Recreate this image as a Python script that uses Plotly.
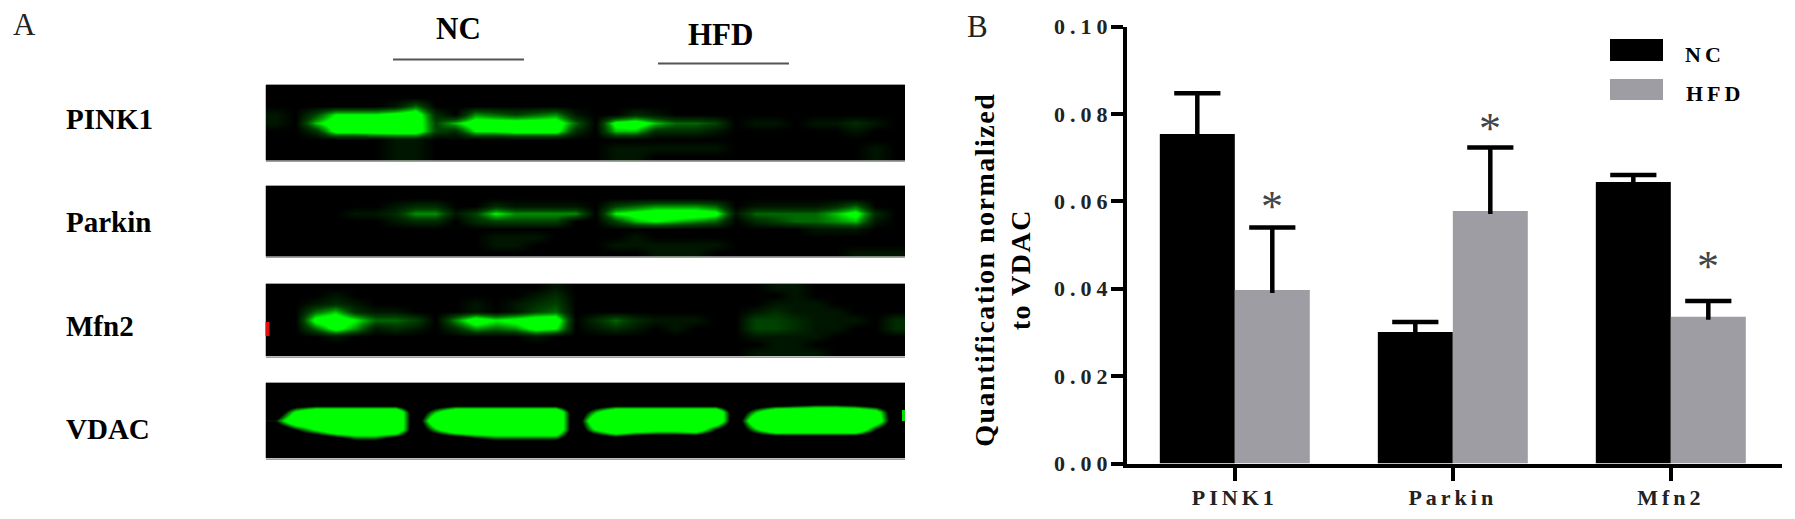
import plotly.graph_objects as go

W = 1795
H = 519
FONT = "Liberation Serif"

# Panel B values
categories = ["PINK1", "Parkin", "Mfn2"]
nc_values = [0.0754, 0.0301, 0.0644]
hfd_values = [0.0397, 0.0578, 0.0336]
nc_errors = [0.0093, 0.0023, 0.0016]
hfd_errors = [0.0143, 0.0145, 0.0036]
star_levels = [0.0595, 0.0775, 0.0458]
y_ticks = [0.0, 0.02, 0.04, 0.06, 0.08, 0.10]

# Panel A blots, green intensity 0-9 per cell, 9 rows of 32 columns
pink1_blot = [
    "0000 0000 0000 0000 0000 0000 0000 0000",
    "0000 0000 0000 0000 0000 0000 0000 0000",
    "0000 0014 0000 0000 0000 0000 0000 0000",
    "1037 7789 2054 3451 0021 0000 0000 0000",
    "1069 9999 3699 9994 0896 4430 1101 1210",
    "0028 8999 3277 8882 0662 2210 0000 0100",
    "0000 0011 0000 0000 0000 0000 0000 0000",
    "0000 0011 0000 0000 0111 1110 0000 0010",
    "0000 0011 0000 0000 0110 0000 0000 0010",
]
parkin_blot = [
    "0000 0000 0000 0000 0000 0000 0000 0000",
    "0000 0000 0000 0000 0000 0000 0000 0000",
    "0000 0012 2002 1111 0345 5540 1111 2400",
    "0000 1125 5137 5555 0789 9981 4444 6820",
    "0000 0012 2023 3330 0367 6540 2344 5610",
    "0000 0000 0000 0000 0000 0000 0001 1100",
    "0000 0000 0001 1100 0010 0000 0000 0000",
    "0000 0000 0001 1000 0111 1110 0000 0000",
    "0000 0000 0000 0000 0001 1100 0000 0111",
]
mfn2_blot = [
    "0000 0000 0000 0010 0000 0000 0110 0000",
    "0001 0000 0000 0120 0000 0000 0010 0000",
    "0012 1000 0010 1230 0000 0000 0111 0000",
    "0046 2110 0010 1340 0000 0000 1211 1000",
    "0089 7443 0597 8990 2421 1100 3321 1102",
    "0048 5121 0254 5870 1210 1000 3321 1002",
    "0001 0000 0000 0100 0000 0000 1111 0000",
    "0000 0000 0000 0000 0000 0000 0110 0000",
    "0000 0000 0000 0000 0000 0000 1111 0000",
]
vdac_blot = [
    "0000 0000 0000 0000 0000 0000 0000 0000",
    "0000 0000 0000 0000 0000 0000 0000 0000",
    "0000 0000 0000 0000 0000 0000 0012 2100",
    "0699 9990 5999 9990 5999 9990 5999 9970",
    "3999 9990 9999 9990 9999 9990 9999 9980",
    "0369 9990 5999 9990 6987 7830 5999 9930",
    "0002 4420 0134 4440 0200 0000 0000 0000",
    "0000 0000 0000 0000 0000 0000 0000 0000",
    "0000 0000 0000 0000 0000 0000 0000 0000",
]


def to_rows(blot):
    return [[int(c) for c in row.replace(" ", "")] for row in blot]


def px_x(x):
    return x / W


def px_y(y):
    return 1 - y / H


fig = go.Figure()

# Panel B bars, x is numeric so the error bars can sit over each bar
positions = list(range(len(categories)))
bar_offset = 0.172
gray = "#9d9da3"
fig.add_trace(go.Bar(x=positions, y=nc_values, name="NC", marker=dict(color="black", line_width=0)))
fig.add_trace(go.Bar(x=positions, y=hfd_values, name="HFD", marker=dict(color=gray, line_width=0)))

# error bars only go upwards and have no cap on the bar, so the cap is a marker at the top
for values, errors, shift in [(nc_values, nc_errors, -bar_offset), (hfd_values, hfd_errors, bar_offset)]:
    fig.add_trace(go.Scatter(
        x=[p + shift for p in positions],
        y=[v + e for v, e in zip(values, errors)],
        mode="markers",
        marker=dict(symbol="line-ew", size=33, line=dict(color="black", width=4.5)),
        error_y=dict(type="data", symmetric=False, array=[0, 0, 0], arrayminus=[e + 0.0007 for e in errors],
                     color="black", thickness=4.5, width=0),
        hoverinfo="skip",
    ))

# Panel A blots, each one on its own small axes
soft_scale = [[0, "#000000"], [0.11, "#001600"], [0.33, "#004000"], [0.55, "#008c00"], [0.78, "#00ff00"],
              [1, "#00ff00"]]
hard_scale = [[0, "#000000"], [0.3, "#000000"], [0.62, "#00ff00"], [1, "#00ff00"]]
blots = [
    (pink1_blot, 85, 160.5, soft_scale),
    (parkin_blot, 186, 256.5, soft_scale),
    (mfn2_blot, 283.5, 356.5, soft_scale),
    (vdac_blot, 382.5, 458.5, hard_scale),
]
blot_axes = {}
for i, (blot, top, bottom, scale) in enumerate(blots):
    n = i + 2
    fig.add_trace(go.Heatmap(z=to_rows(blot), xaxis=f"x{n}", yaxis=f"y{n}", zmin=0, zmax=9,
                             zsmooth="best", showscale=False, hoverinfo="skip", colorscale=scale))
    blot_axes[f"xaxis{n}"] = dict(domain=[px_x(265.5), px_x(905)], anchor=f"y{n}", range=[-0.5, 31.5],
                                  showticklabels=False, ticks="", showgrid=False, zeroline=False,
                                  showline=True, mirror=True, linecolor="#a0a0a0", linewidth=1,
                                  automargin=False)
    blot_axes[f"yaxis{n}"] = dict(domain=[px_y(bottom), px_y(top)], anchor=f"x{n}", range=[8.5, -0.5],
                                  showticklabels=False, ticks="", showgrid=False, zeroline=False,
                                  automargin=False)


def label(text, x, y, size, bold=True, anchor="center", color="black"):
    return dict(text=text, x=px_x(x), y=px_y(y), xref="paper", yref="paper", showarrow=False,
                xanchor=anchor, yanchor="middle",
                font=dict(family=FONT, size=size, color=color, weight=700 if bold else 400))


annotations = [
    label("A", 24, 25, 31, bold=False, color="#222"),
    label("B", 977, 26, 31, bold=False, color="#222"),
    label("NC", 458, 29, 31),
    label("HFD", 720, 34, 31),
    label("PINK1", 64, 119, 29, anchor="left"),
    label("Parkin", 64, 222, 29, anchor="left"),
    label("Mfn2", 64, 326, 29, anchor="left"),
    label("VDAC", 64, 429, 29, anchor="left"),
]

# the y title sits lower than the middle of the axis, an axis title can't do that
title = label("Quantification normalized<br>to VDAC", 1002, 270, 28)
title["textangle"] = -90
annotations.append(title)
title_index = len(annotations) - 1

# significance stars over the HFD bars
for p, level in zip(positions, star_levels):
    annotations.append(dict(text="*", x=p + bar_offset, y=level, xref="x", yref="y", showarrow=False,
                            yanchor="bottom", yshift=-30, font=dict(family=FONT, size=44, color="#444")))

# legend keys are bigger than the ones plotly draws, so they are built by hand
annotations.append(label("NC", 1705, 54, 22))
annotations.append(label("HFD", 1715, 94, 22))
legend_index = len(annotations) - 2

line_under = dict(type="line", xref="paper", yref="paper", line=dict(color="#555555", width=2))
key = dict(type="rect", xref="paper", yref="paper", line_width=0)
shapes = [
    dict(x0=px_x(393), x1=px_x(524), y0=px_y(59.5), y1=px_y(59.5), **line_under),
    dict(x0=px_x(658), x1=px_x(789), y0=px_y(63.5), y1=px_y(63.5), **line_under),
    dict(x0=px_x(1610), x1=px_x(1663), y0=px_y(39), y1=px_y(61), fillcolor="black", **key),
    dict(x0=px_x(1610), x1=px_x(1663), y0=px_y(79), y1=px_y(100), fillcolor=gray, **key),
    # red marker smear at the left edge of the Mfn2 blot
    dict(x0=px_x(265.5), x1=px_x(269.5), y0=px_y(322), y1=px_y(336), fillcolor="#e01010", **key),
    # start of a fifth lane cut off at the right edge of the VDAC blot
    dict(x0=px_x(902), x1=px_x(905), y0=px_y(410), y1=px_y(421), fillcolor="#00e000", **key),
]

tick_font = dict(family=FONT, size=22, color="#222", weight=700)
fig.update_layout(
    width=W,
    height=H,
    margin=dict(l=0, r=0, t=0, b=0),
    paper_bgcolor="white",
    plot_bgcolor="white",
    showlegend=False,
    barmode="group",
    bargap=0.312,
    bargroupgap=0,
    annotations=annotations,
    shapes=shapes,
    xaxis=dict(domain=[px_x(1127), px_x(1782)], range=[-0.4945, 2.51], tickvals=positions, ticktext=categories,
               showgrid=False, zeroline=False, showline=True, linecolor="black", linewidth=4,
               ticks="outside", ticklen=13, tickwidth=4, tickcolor="black", tickfont=tick_font,
               ticklabelstandoff=-2, automargin=False),
    yaxis=dict(domain=[px_y(463.5), px_y(26.5)], range=[0, 0.1], tickvals=y_ticks, tickformat=".2f",
               showgrid=False, zeroline=False, showline=True, linecolor="black", linewidth=4,
               ticks="outside", ticklen=12, tickwidth=4, tickcolor="black", tickfont=tick_font,
               ticklabelstandoff=-6, automargin=False),
    **blot_axes,
)

# plotly has no letter spacing option, the original labels are spread out
css = (
    "g.xtick text{letter-spacing:4px}"
    "g.ytick text{letter-spacing:5px}"
    f".annotation[data-index='{title_index}'] text{{letter-spacing:1.5px}}"
    f".annotation[data-index='{legend_index}'] text,.annotation[data-index='{legend_index + 1}'] text"
    "{letter-spacing:4px}"
)
post = (
    "document.body.style.margin='0';"
    "var s=document.createElement('style');"
    f's.textContent="{css}";'
    "document.head.appendChild(s);"
)

fig.write_html("out.html", post_script=post, config={"displayModeBar": False})
